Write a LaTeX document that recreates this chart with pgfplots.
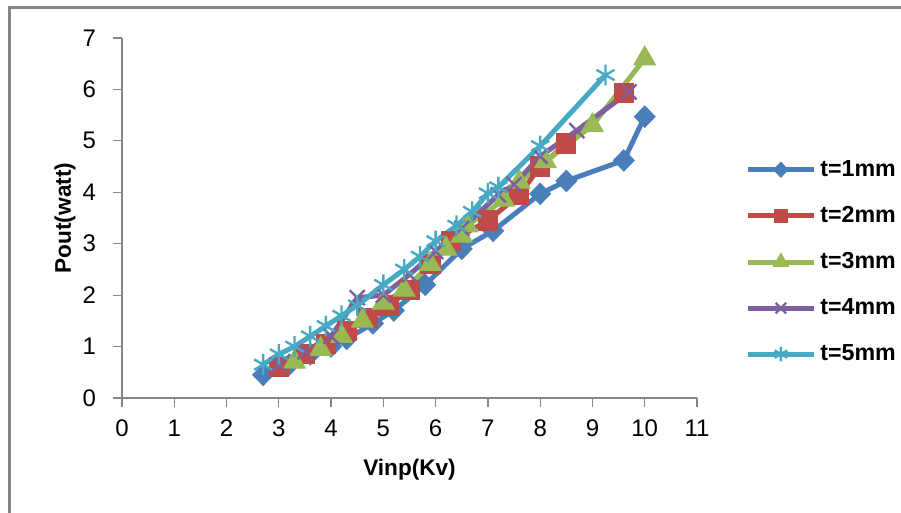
\documentclass[border=0pt]{standalone}
\usepackage{pgfplots}
\pgfplotsset{compat=1.18}
\usepackage{fontspec}
\setmainfont{Liberation Sans}
\usetikzlibrary{plotmarks}
\definecolor{c1}{RGB}{74,126,187}
\definecolor{c2}{RGB}{190,75,72}
\definecolor{c3}{RGB}{152,185,84}
\definecolor{c4}{RGB}{125,96,160}
\definecolor{c5}{RGB}{70,170,197}
\definecolor{axc}{RGB}{134,134,134}
\begin{document}
\begin{tikzpicture}
\path[use as bounding box] (0,0) rectangle (450.5pt,256.5pt);
\draw[axc, line width=1.5pt] (4.5pt,0) -- (4.5pt,252.5pt) -- (450.5pt,252.5pt);
\begin{axis}[
  at={(61pt,57.5pt)}, anchor=south west,
  scale only axis, width=287.5pt, height=180pt,
  xmin=0, xmax=11, ymin=0, ymax=7,
  xtick={0,1,...,11}, ytick={0,1,...,7},
  axis x line*=bottom, axis y line*=left,
  axis line style={axc, line width=0.6pt, -},
  tick style={axc, line width=0.6pt},
  tick align=outside, major tick length=4.5pt,
  xtick style={axc}, ytick style={axc},
  /pgf/number format/assume math mode=true,
  ticklabel style={font=\fontsize{12}{13}\selectfont},
  xticklabel style={yshift=-3pt},
  yticklabel style={xshift=-5pt},
  xlabel={\textbf{Vinp(Kv)}}, ylabel={\textbf{Pout(watt)}},
  label style={font=\fontsize{11.3}{13}\selectfont},
  xlabel style={at={(0.5,0)}, anchor=center, yshift=-36pt},
  ylabel style={at={(0,0.5)}, anchor=center, rotate=0, yshift=28.5pt},
  legend style={at={(1,0.378)}, anchor=west, xshift=24pt, draw=none, fill=none,
    font=\fontsize{11.6}{13}\selectfont\bfseries, row sep=9.5pt,
    inner sep=0pt, cells={anchor=west}},
  legend cell align=left,
  legend image code/.code={
    \draw[#1, mark repeat=2, mark phase=2, every mark/.append style={scale=0.7}] plot coordinates {(0pt,0pt) (16.5pt,0pt) (33pt,0pt)};
  },
  every axis plot/.append style={line width=2.5pt},
  clip=false,
]
\addplot[c1, mark=diamond*, mark size=5.3pt, mark options={fill=c1, line width=0.5pt, xscale=1.3}] coordinates {
(2.7,0.45) (3.2,0.65) (3.6,0.85) (4.0,1.0) (4.3,1.15) (4.8,1.45) (5.2,1.7) (5.8,2.2) (6.5,2.9) (7.1,3.25) (8.0,3.97) (8.5,4.22) (9.6,4.62) (10.0,5.47)};
\addlegendentry{t=1mm}
\addplot[c2, mark=square*, mark size=4.8pt, mark options={fill=c2, line width=0.5pt}] coordinates {
(3.0,0.6) (3.5,0.85) (3.9,1.05) (4.3,1.3) (4.7,1.55) (5.1,1.8) (5.5,2.1) (5.9,2.6) (6.3,3.05) (7.0,3.45) (7.6,3.95) (8.0,4.5) (8.5,4.95) (9.6,5.93)};
\addlegendentry{t=2mm}
\addplot[c3, mark=triangle*, mark size=6.2pt, mark options={fill=c3, line width=0.5pt}] coordinates {
(3.3,0.7) (3.8,0.95) (4.2,1.2) (4.6,1.5) (5.0,1.85) (5.4,2.1) (5.9,2.6) (6.2,2.9) (6.5,3.15) (6.6,3.35) (7.3,3.85) (7.6,4.2) (8.1,4.6) (9.0,5.3) (10.0,6.6)};
\addlegendentry{t=3mm}
\addplot[c4, mark=x, mark size=5.3pt, mark options={line width=1.2pt}] coordinates {
(3.0,0.65) (3.5,0.9) (4.0,1.2) (4.5,1.95) (5.0,2.0) (5.5,2.4) (6.0,2.85) (6.5,3.3) (7.2,3.95) (7.5,4.15) (8.0,4.7) (8.7,5.2) (9.7,5.95)};
\addlegendentry{t=4mm}
\addplot[c5, mark=asterisk, mark size=5.2pt, mark options={line width=1.2pt}] coordinates {
(2.7,0.65) (3.0,0.85) (3.3,1.0) (3.6,1.2) (3.9,1.4) (4.2,1.6) (4.5,1.8) (5.0,2.2) (5.4,2.5) (5.7,2.75) (6.0,3.05) (6.4,3.35) (6.7,3.62) (7.0,3.98) (7.2,4.1) (8.0,4.9) (9.25,6.28)};
\addlegendentry{t=5mm}
\end{axis}
\end{tikzpicture}
\end{document}
